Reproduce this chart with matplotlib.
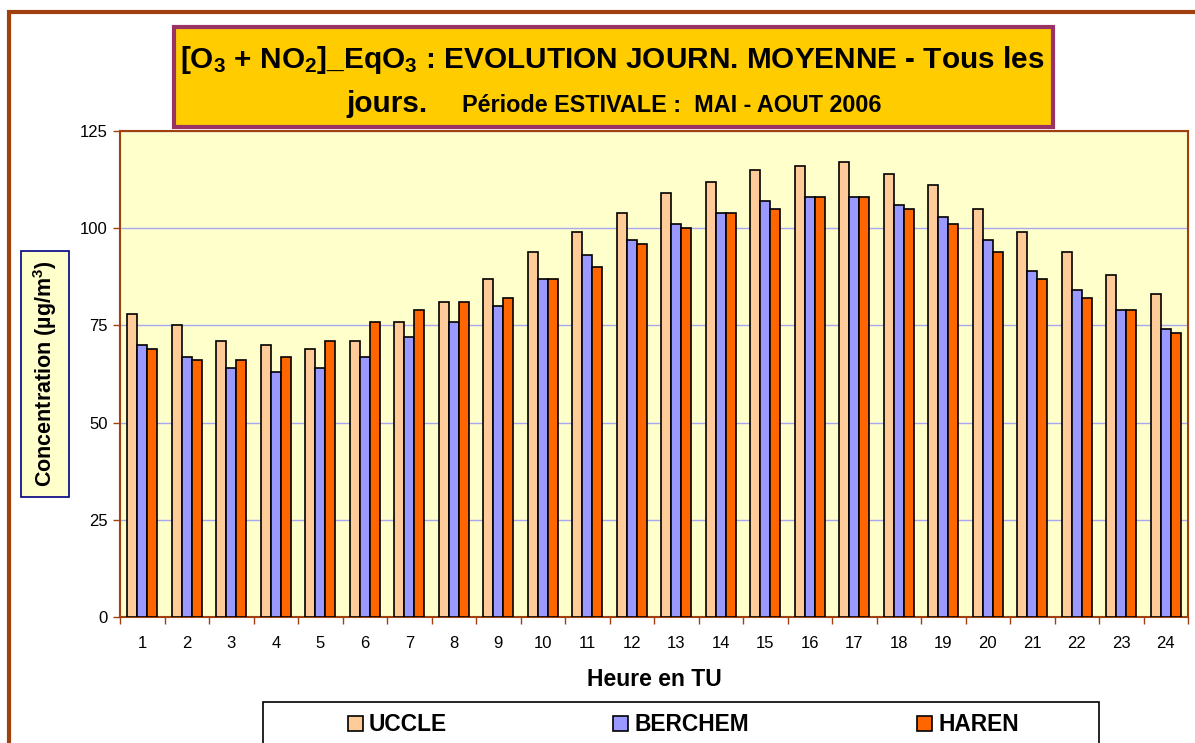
import numpy as np
import matplotlib
matplotlib.use("Agg")
import matplotlib.pyplot as plt
from matplotlib.patches import Rectangle

plt.rcParams['font.family'] = ['Liberation Sans', 'DejaVu Sans']
plt.rcParams['mathtext.default'] = 'regular'

# --- donnees ---
heures = list(range(1, 25))
uccle = [78, 75, 71, 70, 69, 71, 76, 81, 87, 94, 99, 104,
         109, 112, 115, 116, 117, 114, 111, 105, 99, 94, 88, 83]
berchem = [70, 67, 64, 63, 64, 67, 72, 76, 80, 87, 93, 97,
           101, 104, 107, 108, 108, 106, 103, 97, 89, 84, 79, 74]
haren = [69, 66, 66, 67, 71, 76, 79, 81, 82, 87, 90, 96,
         100, 104, 105, 108, 108, 105, 101, 94, 87, 82, 79, 73]
series = ["UCCLE", "BERCHEM", "HAREN"]
couleurs = ["#FFCC99", "#9999FF", "#FF6600"]
y_ticks = [0, 25, 50, 75, 100, 125]

brun = "#A0400F"

fig = plt.figure(figsize=(11.95, 7.43), dpi=100)
W, H = 1195, 743

def px(x0, y0, x1, y1):
    # pixels (haut-gauche) -> fraction de figure
    return (x0 / W, 1 - y1 / H, (x1 - x0) / W, (y1 - y0) / H)

# cadre exterieur
fig.patches.append(Rectangle((9 / W, -0.01), 1.0, 1 - 12 / H + 0.01,
                             transform=fig.transFigure, fill=False,
                             edgecolor=brun, linewidth=3, zorder=0))

ax = fig.add_axes(px(120, 131, 1188, 617))
ax.set_facecolor("#FFFFCC")

x = np.arange(len(heures))
larg = 0.225
for i, (vals, c, nom) in enumerate(zip([uccle, berchem, haren], couleurs, series)):
    ax.bar(x + (i - 1) * larg, vals, width=larg, color=c, edgecolor="black",
           linewidth=1.2, label=nom, zorder=3)

ax.set_xlim(-0.5, len(heures) - 0.5)
ax.set_ylim(0, 125)
ax.set_yticks(y_ticks)
ax.set_yticklabels([str(v) for v in y_ticks], fontsize=12)
ax.set_xticks(x)
ax.set_xticklabels([str(h) for h in heures], fontsize=12)
ax.set_xticks(np.arange(-0.5, len(heures), 1), minor=True)
ax.tick_params(axis="x", which="major", length=0, pad=14)
ax.tick_params(axis="x", which="minor", length=5, color=brun, width=1)
ax.tick_params(axis="y", length=5, color=brun, width=1, pad=4)
for s in ax.spines.values():
    s.set_color(brun)
    s.set_linewidth(1.5)
ax.yaxis.grid(True, color="#A8A8F0", linewidth=1, zorder=0)
ax.set_axisbelow(True)

ax.set_xlabel("Heure en TU", fontsize=16.5, fontweight="bold", labelpad=12)

# titre de l'axe y dans un cadre
fig.text(45 / W, 1 - 374 / H, r"Concentration (µg/m$^{3}$)", rotation=90,
         ha="center", va="center", fontsize=15.5, fontweight="bold",
         bbox=dict(boxstyle="square,pad=0.45", facecolor="#FFFFCC",
                   edgecolor="#000080", linewidth=1.2))

# titre
fig.patches.append(Rectangle(px(174, 27, 1053, 127)[:2], *px(174, 27, 1053, 127)[2:],
                             transform=fig.transFigure, facecolor="#FFCC00",
                             edgecolor="#993366", linewidth=3, zorder=1))
fig.text(612 / W, 1 - 68 / H,
         r"[O$_3$ + NO$_2$]_EqO$_3$ : EVOLUTION JOURN. MOYENNE - Tous les",
         ha="center", va="baseline", fontsize=21.4, fontweight="bold", zorder=2)
fig.text(346 / W, 1 - 112 / H, "jours.", ha="left", va="baseline",
         fontsize=21.4, fontweight="bold", zorder=2)
fig.text(462 / W, 1 - 112 / H, "Période ESTIVALE :  MAI - AOUT 2006",
         ha="left", va="baseline", fontsize=16.8, fontweight="bold", zorder=2)

# legende (cadre + carres + textes)
fig.patches.append(Rectangle(px(263, 702, 1099, 760)[:2], *px(263, 702, 1099, 760)[2:],
                             transform=fig.transFigure, facecolor="white",
                             edgecolor="black", linewidth=1.2, zorder=1))
for nom, c, x0 in zip(series, couleurs, [348, 613, 917]):
    fig.patches.append(Rectangle(px(x0, 716, x0 + 15, 731)[:2], *px(x0, 716, x0 + 15, 731)[2:],
                                 transform=fig.transFigure, facecolor=c,
                                 edgecolor="black", linewidth=1.2, zorder=2))
    fig.text((x0 + 21) / W, 1 - 731 / H, nom, ha="left", va="baseline",
             fontsize=16.4, fontweight="bold", zorder=3)

fig.savefig("out.png", dpi=100)
